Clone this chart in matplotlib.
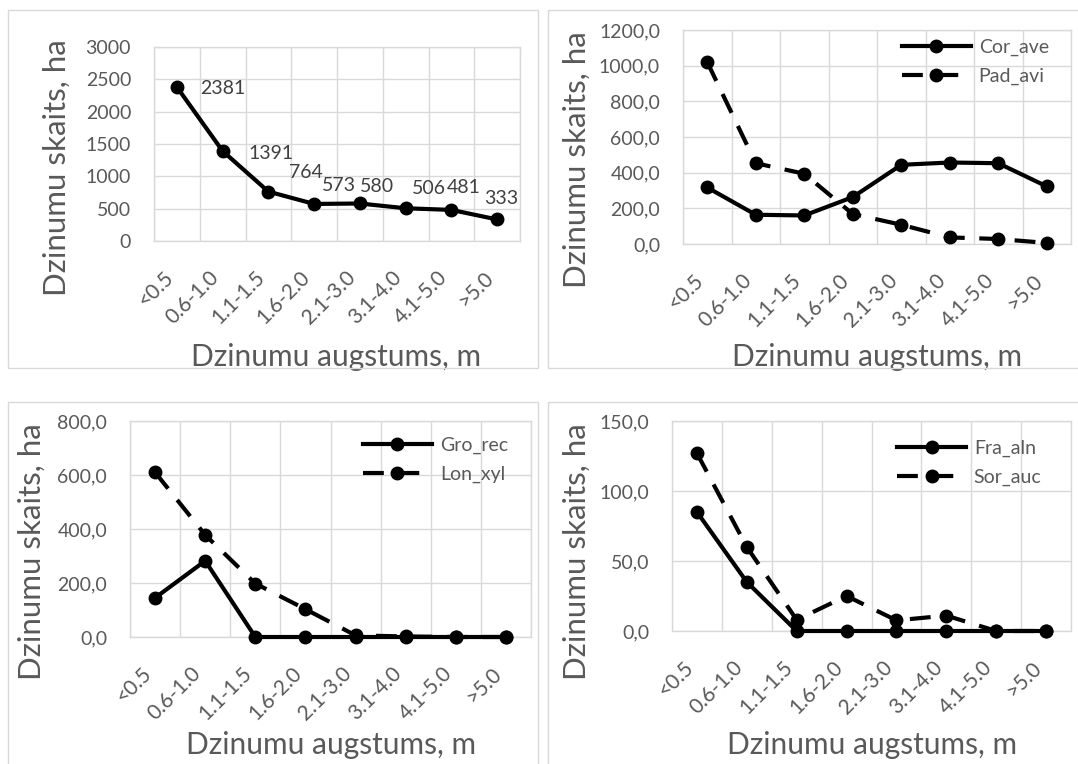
import matplotlib
matplotlib.use('Agg')
import matplotlib.pyplot as plt
from matplotlib.patches import Rectangle
from matplotlib.ticker import FixedLocator, FuncFormatter, MultipleLocator

W, H = 1078, 764

categories = ['<0.5', '0.6-1.0', '1.1-1.5', '1.6-2.0', '2.1-3.0', '3.1-4.0', '4.1-5.0', '>5.0']

total = [2381, 1391, 764, 573, 580, 506, 481, 333]
cor_ave = [317, 164, 160, 263, 444, 457, 453, 323]
pad_avi = [1020, 453, 394, 168, 108, 37, 28, 6]
gro_rec = [145, 282, 0, 0, 0, 0, 0, 0]
lon_xyl = [610, 378, 198, 103, 6, 2, 0, 0]
fra_aln = [85, 35, 0, 0, 0, 0, 0, 0]
sor_auc = [127, 60, 8, 25, 7.6, 11, 0, 0]

# label offsets (pixels) for the totals in the first chart
label_offsets = [(46, -1), (48, -2), (37, 19), (25, 18), (17, 17), (23, 20), (12, 22), (4, 21)]

plt.rcParams['font.family'] = ['Lato', 'DejaVu Sans']
TXT = '#595959'
GRID = '#d9d9d9'

fig = plt.figure(figsize=(W / 100, H / 100), dpi=100)


def frame(l, t, r, b):
    fig.patches.append(Rectangle((l / W, 1 - b / H), (r - l) / W, (b - t) / H,
                                 transform=fig.transFigure, fill=False,
                                 edgecolor=GRID, lw=1.0, zorder=0))


def make_ax(box, ymax, ystep, decimals, xlab, ylab):
    l, t, r, b = box
    ax = fig.add_axes([l / W, 1 - b / H, (r - l) / W, (b - t) / H])
    ax.set_xlim(-0.5, len(categories) - 0.5)
    ax.set_ylim(0, ymax)
    ax.yaxis.set_major_locator(MultipleLocator(ystep))
    if decimals:
        ax.yaxis.set_major_formatter(FuncFormatter(lambda v, p: f'{v:.1f}'.replace('.', ',')))
    else:
        ax.yaxis.set_major_formatter(FuncFormatter(lambda v, p: f'{v:.0f}'))
    ax.set_xticks(range(len(categories)))
    ax.set_xticklabels(categories, rotation=45, ha='right', va='top', fontsize=15)
    ax.xaxis.set_minor_locator(FixedLocator([i + 0.5 for i in range(-1, len(categories))]))
    ax.grid(True, which='minor', axis='x', color=GRID, lw=1.0)
    ax.grid(True, which='major', axis='y', color=GRID, lw=1.0)
    ax.tick_params(axis='both', which='both', length=0, colors=TXT)
    ax.tick_params(axis='y', pad=16.5, labelsize=14)
    ax.tick_params(axis='x', pad=19)
    for s in ax.spines.values():
        s.set_color(GRID)
        s.set_linewidth(1.0)
    ax.set_axisbelow(True)
    ax.set_xlabel('Dzinumu augstums, m', fontsize=21.5, color=TXT)
    ax.set_ylabel('Dzinumu skaits, ha', fontsize=22.5, color=TXT)
    ax.xaxis.set_label_coords((xlab[0] - l) / (r - l), (b - xlab[1]) / (b - t))
    ax.yaxis.set_label_coords((ylab[0] - l) / (r - l), (b - ylab[1]) / (b - t))
    ax.xaxis.label.set_verticalalignment('center')
    ax.yaxis.label.set_verticalalignment('center')
    return ax


def series(ax, vals, label, dashed=False):
    line, = ax.plot(range(len(vals)), vals, color='black', lw=3, marker='o',
                    markersize=9, clip_on=False, label=label, zorder=3)
    if dashed:
        line.set_dashes((5, 3.5))
        line.set_dash_capstyle('butt')
    return line


def legend(ax, x, y):
    ax.legend(loc='upper left', bbox_to_anchor=(x, y), frameon=False, fontsize=14,
              labelcolor=TXT, handlelength=3.55, handletextpad=0.4, borderpad=0,
              borderaxespad=0, labelspacing=0.6)


frame(8, 10, 538, 368)
frame(548, 10, 1090, 368)
frame(8, 402, 538, 780)
frame(548, 402, 1090, 780)

# chart 1
ax1 = make_ax((154, 47, 520, 241), 3000, 500, False, (336, 357), (57, 168))
series(ax1, total, 'total')
for i, v in enumerate(total):
    dx, dy = label_offsets[i]
    ax1.annotate(str(v), (i, v), xytext=(dx, dy), textcoords='offset pixels',
                 ha='center', va='center', fontsize=14, color='#404040')

# chart 2
ax2 = make_ax((683, 30, 1071, 244), 1200, 200, True, (877, 357), (577, 160))
series(ax2, cor_ave, 'Cor_ave')
series(ax2, pad_avi, 'Pad_avi', dashed=True)
legend(ax2, 0.564, 0.96)

# chart 3
ax3 = make_ax((130, 421, 531, 637), 800, 200, True, (331, 745), (32, 552))
series(ax3, gro_rec, 'Gro_rec')
series(ax3, lon_xyl, 'Lon_xyl', dashed=True)
legend(ax3, 0.581, 0.925)

# chart 4
ax4 = make_ax((672, 421, 1071, 631), 150, 50, True, (872, 745), (577, 552))
series(ax4, fra_aln, 'Fra_aln')
series(ax4, sor_auc, 'Sor_auc', dashed=True)
legend(ax4, 0.564, 0.91)

fig.savefig('out.png', dpi=100)
